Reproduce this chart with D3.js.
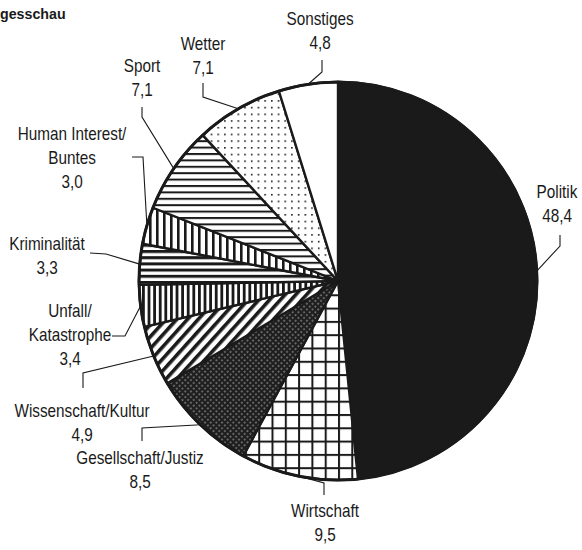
<!DOCTYPE html>
<html>
<head>
<meta charset="utf-8">
<script src="https://cdn.jsdelivr.net/npm/d3@7"></script>
<style>
  body { margin: 0; background: #fff; }
  text { font-family: "Liberation Sans", Arial, sans-serif; fill: #1a1a1a; }
</style>
</head>
<body>
<script>
const title = "gesschau";
const categories = ["Politik", "Wirtschaft", "Gesellschaft/Justiz", "Wissenschaft/Kultur",
  "Unfall/\nKatastrophe", "Kriminalität", "Human Interest/\nBuntes", "Sport", "Wetter", "Sonstiges"];
const values = [48.4, 9.5, 8.5, 4.9, 3.4, 3.3, 3.0, 7.1, 7.1, 4.8];
const fills = ["black", "grid", "cross", "diag", "vert1", "horiz1", "vert2", "horiz2", "dots", "white"];

// label layout: text anchor (center x, first baseline), leader start and elbow
const labelLayout = [
  { x: 557, y: 198, p0: [560, 235], p1: [560, 246] },
  { x: 325, y: 517, p0: [324, 495], p1: [324, 483] },
  { x: 140, y: 464, p0: [142, 441], p1: [142, 428] },
  { x: 82, y: 417, p0: [83, 388], p1: [83, 373] },
  { x: 70, y: 317, p0: [112, 336], p1: [125, 336] },
  { x: 47, y: 250, p0: [90, 253], p1: [106, 254] },
  { x: 72, y: 140, p0: [132, 157], p1: [143, 157] },
  { x: 142, y: 72, p0: [142, 107], p1: [142, 117] },
  { x: 203, y: 50, p0: [203, 83], p1: [203, 97] },
  { x: 320, y: 25, p0: [322, 60], p1: [322, 72] }
];

const W = 582, H = 550, cx = 338, cy = 281, R = 199;
const ink = "#1a1a1a";
const fmt = d3.formatLocale({ decimal: ",", thousands: ".", grouping: [3], currency: ["", "€"] }).format(".1f");

const svg = d3.select("body").append("svg").attr("width", W).attr("height", H);
const defs = svg.append("defs");

function pat(id, w, h, draw, transform) {
  const p = defs.append("pattern").attr("id", id)
    .attr("patternUnits", "userSpaceOnUse").attr("width", w).attr("height", h);
  if (transform) p.attr("patternTransform", transform);
  p.append("rect").attr("width", w).attr("height", h).attr("fill", "#fff");
  draw(p);
}
pat("grid", 13.3, 13.3, p => {
  p.append("rect").attr("x", 0).attr("y", 0).attr("width", 2).attr("height", 13.3).attr("fill", ink);
  p.append("rect").attr("x", 0).attr("y", 0).attr("width", 13.3).attr("height", 2).attr("fill", ink);
});
pat("cross", 4, 4, p => {
  p.append("rect").attr("width", 4).attr("height", 4).attr("fill", "#1e1e1e");
  p.append("rect").attr("x", 1.5).attr("y", 1.5).attr("width", 1.2).attr("height", 1.2).attr("fill", "#ddd");
}, "rotate(45)");
pat("diag", 8, 8, p => {
  p.append("rect").attr("x", 0).attr("y", 0).attr("width", 3.6).attr("height", 8).attr("fill", ink);
}, "rotate(42)");
pat("vert1", 5.6, 10, p => {
  p.append("rect").attr("x", 0).attr("y", 0).attr("width", 2.8).attr("height", 10).attr("fill", ink);
});
pat("horiz1", 10, 6.2, p => {
  p.append("rect").attr("x", 0).attr("y", 0).attr("width", 10).attr("height", 3).attr("fill", ink);
});
pat("vert2", 7, 10, p => {
  p.append("rect").attr("x", 0).attr("y", 0).attr("width", 2.6).attr("height", 10).attr("fill", ink);
});
pat("horiz2", 10, 6.4, p => {
  p.append("rect").attr("x", 0).attr("y", 0).attr("width", 10).attr("height", 2).attr("fill", ink);
});
pat("dots", 6.7, 6.7, p => {
  p.append("rect").attr("x", 0).attr("y", 0).attr("width", 1.6).attr("height", 1.6).attr("fill", ink);
});

function fillOf(f) {
  if (f === "black") return ink;
  if (f === "white") return "#fff";
  return "url(#" + f + ")";
}

const data = categories.map((c, i) => ({ name: c, value: values[i], fill: fills[i], lay: labelLayout[i] }));

const pie = d3.pie().value(d => d.value).sort(null);
const arc = d3.arc().innerRadius(0).outerRadius(R);
const edge = d3.arc().innerRadius(R).outerRadius(R);

const g = svg.append("g").attr("transform", `translate(${cx},${cy})`);
g.selectAll("path.slice")
  .data(pie(data))
  .enter()
  .append("path")
  .attr("class", "slice")
  .attr("d", arc)
  .attr("fill", d => fillOf(d.data.fill))
  .attr("stroke", ink)
  .attr("stroke-width", 2.4)
  .attr("stroke-linejoin", "round");

g.append("circle").attr("r", R).attr("fill", "none").attr("stroke", ink).attr("stroke-width", 3);

// leader lines
const line = d3.line();
svg.selectAll("path.leader")
  .data(pie(data))
  .enter()
  .append("path")
  .attr("class", "leader")
  .attr("d", d => {
    const c = edge.centroid(d);
    return line([d.data.lay.p0, d.data.lay.p1, [c[0] + cx, c[1] + cy]]);
  })
  .attr("fill", "none")
  .attr("stroke", ink)
  .attr("stroke-width", 1.1);

// labels (condensed look: regular face squeezed horizontally)
const labels = svg.selectAll("text.label")
  .data(data)
  .enter()
  .append("text")
  .attr("class", "label")
  .attr("text-anchor", "middle")
  .attr("font-size", 18)
  .attr("transform", d => `translate(${d.lay.x},${d.lay.y}) scale(0.85,1)`);

labels.each(function (d) {
  const t = d3.select(this);
  const lines = d.name.split("\n").concat([fmt(d.value)]);
  lines.forEach((s, i) => {
    t.append("tspan").attr("x", 0).attr("y", i * 23.8).text(s);
  });
});

svg.append("text")
  .attr("x", 0)
  .attr("y", 19)
  .attr("font-size", 15)
  .attr("font-weight", "bold")
  .attr("transform", "scale(0.95,1)")
  .text(title);
</script>
</body>
</html>
